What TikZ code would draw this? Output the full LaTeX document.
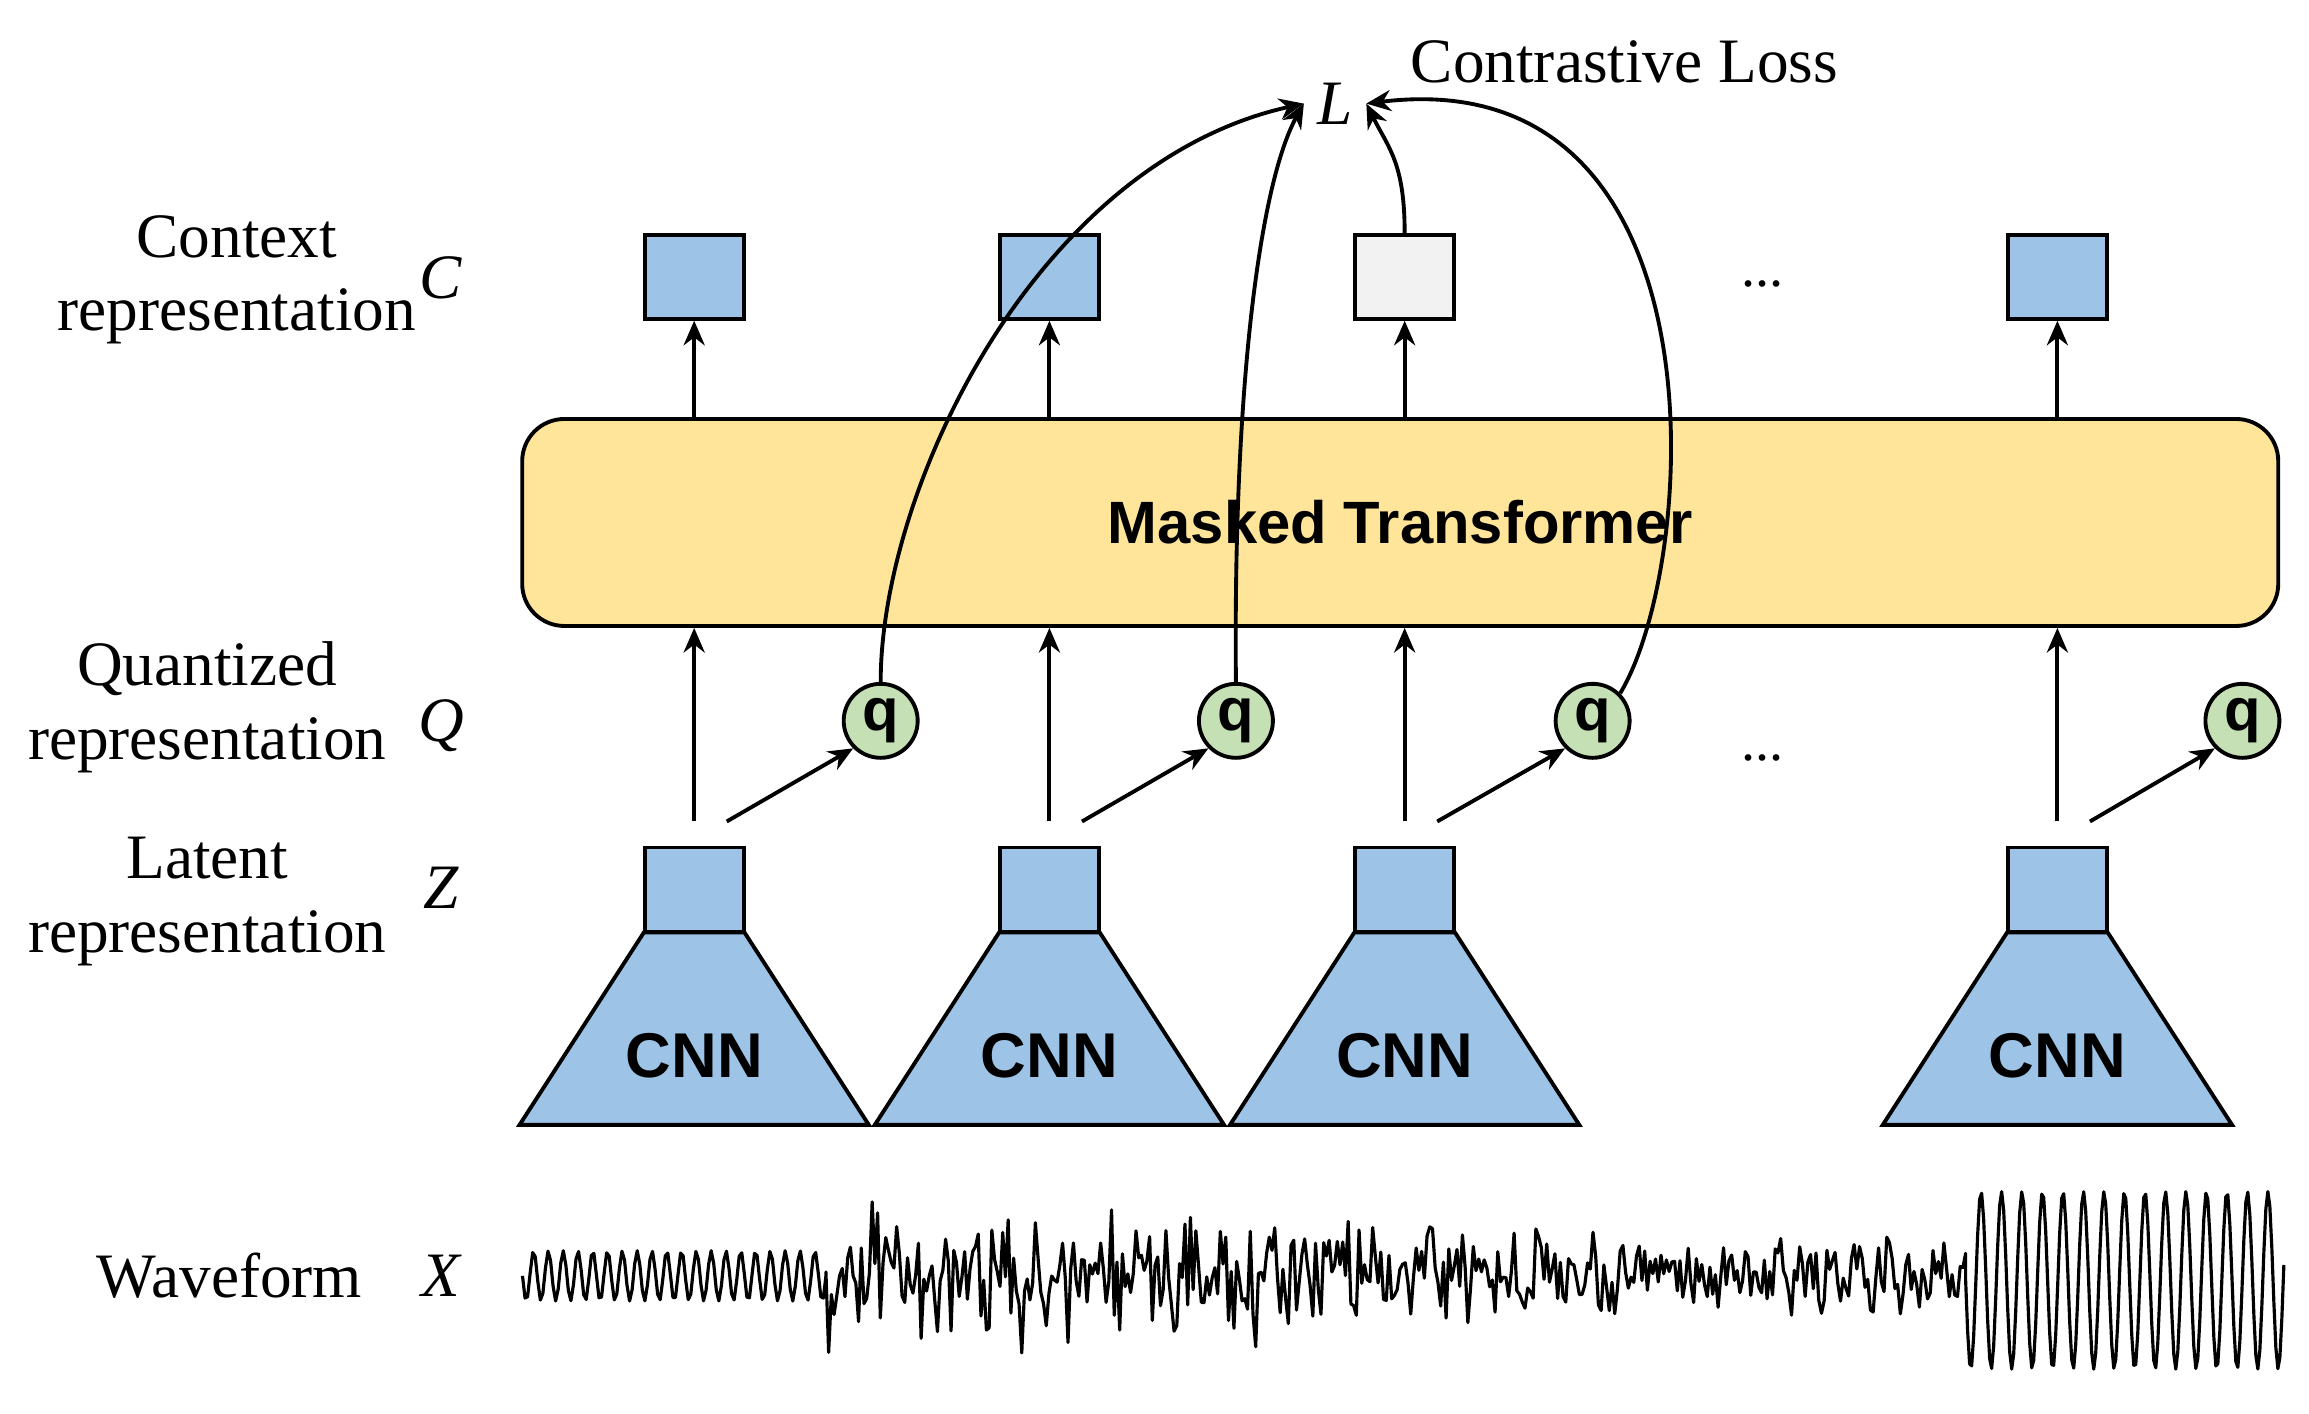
\documentclass[tikz,border=0pt]{standalone}
\usepackage{fontspec}
\setmainfont{Liberation Serif}
\newfontfamily\sansb{Liberation Sans}
\usetikzlibrary{arrows.meta, positioning, shapes}
\definecolor{boxblue}{RGB}{157,195,230}
\definecolor{tyellow}{RGB}{255,229,153}
\definecolor{qgreen}{RGB}{197,224,180}
\definecolor{boxgray}{RGB}{242,242,242}
\begin{document}
\begin{tikzpicture}[x=0.0148cm, y=-0.0148cm, line width=1.1pt]
    \tikzstyle{rep} = [rectangle, draw, fill=boxblue, minimum width=0.99cm, minimum height=0.84cm, inner sep=0pt]
    \tikzstyle{qnode} = [circle, draw, fill=qgreen, minimum size=0.74cm, inner sep=0pt, font=\sansb\bfseries\fontsize{17}{17}\selectfont]
    \tikzstyle{line} = [draw, -{Stealth[length=7pt,width=6pt]}]
    \tikzstyle{lbl} = [align=center, font=\fontsize{18}{21}\selectfont]
    \tikzstyle{sym} = [font=\itshape\fontsize{18}{18}\selectfont]
    \useasboundingbox (0,0) rectangle (1560,955);

    % transformer
    \node[draw, fill=tyellow, rounded corners=12pt, minimum width=17.56cm, minimum height=2.07cm, font=\sansb\bfseries\fontsize{17}{17}\selectfont] (trans) at (946,353) {Masked Transformer};

    % context, latent, quantized
    \foreach \i/\x/\qx in {1/469/595, 2/709/835, 3/949/1076, 4/1390/1515} {
        \node[rep] (c\i) at (\x,187) {};
        \node[rep] (z\i) at (\x,601) {};
        \node[qnode] (q\i) at (\qx,487) {q};
        \coordinate (zt\i) at (\x,555);
        \coordinate (zd\i) at (\x+22,555);
        \draw[fill=boxblue] (\x-34,630) -- (\x+34,630) -- (\x+118,760) -- (\x-118,760) -- cycle;
        \node[font=\sansb\bfseries\fontsize{18}{18}\selectfont] (cnn\i) at (\x,713) {CNN};
        \path [line] (trans.north -| c\i) -- (c\i);
        \path [line] (zt\i) -- (trans.south -| zt\i);
        \path [line] (zd\i) -- (q\i.south west);
    }
    \node[rep, fill=boxgray] at (c3) {};
    \node[font=\fontsize{16}{16}\selectfont] (dots1) at (1191,192) {...};
    \node[font=\fontsize{16}{16}\selectfont] (dots2) at (1191,512) {...};

    % loss
    \node[sym] (L) at (902,70) {L};
    \node[font=\fontsize{18}{18}\selectfont, anchor=west] (loss) at (944,42) {Contrastive Loss};
    \path [line] (q1.north) .. controls (595,330) and (700,110) .. (L.west);
    \path [line] (q2.north) .. controls (833,250) and (853,120) .. (L.west);
    \path [line] (c3.north) .. controls (949,110) and (938,100) .. (L.east);
    \path [line] (q3.north east) .. controls (1148,380) and (1168,40) .. (L.east);

    % left labels
    \node[lbl] (lc) at (160,189) {Context\\representation};
    \node[sym] (sc) at (298,188) {C};
    \node[lbl] (lq) at (140,478) {Quantized\\representation};
    \node[sym] (sq) at (298,490) {Q};
    \node[lbl] (lz) at (140,609) {Latent\\representation};
    \node[sym] (sz) at (298,600) {Z};
    \node[lbl] (lx) at (155,862) {Waveform};
    \node[sym] (sx) at (298,862) {X};

    % waveform
    \pgfmathsetseed{7}
    \draw[line width=0.9pt, line join=round] plot[domain=0:205, samples=120] ({\x+353}, {862+17*sin(\x*36)})
        -- plot[domain=0:770, samples=420] ({\x+558}, {862+(770-\x)/770*35*rand+22*rand+8*sin(\x*20)})
        -- plot[domain=0:215, samples=160] ({\x+1328}, {865+60*sin(\x*26)});
\end{tikzpicture}
\end{document}
